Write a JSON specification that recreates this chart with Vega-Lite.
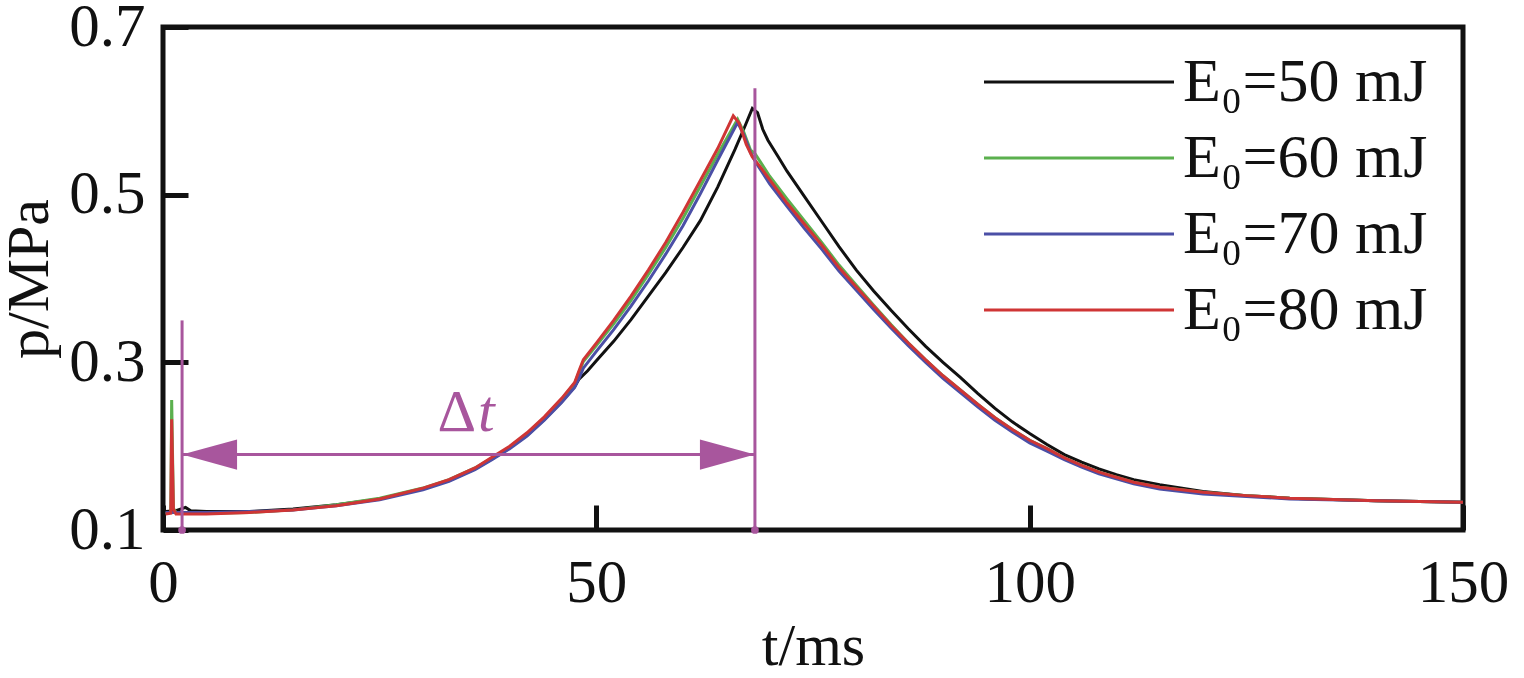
{
  "$schema": "https://vega.github.io/schema/vega-lite/v6.json",
  "description": "Pressure vs time for four ignition energies, with the delay interval marked.",
  "width": 1300,
  "height": 503,
  "autosize": "none",
  "padding": {"left": 163, "top": 27, "right": 61, "bottom": 148},
  "datasets": {
    "curves": [
      {"series": "E₀=50 mJ", "t": 0.3, "p": 0.122}, {"series": "E₀=50 mJ", "t": 1.5, "p": 0.123}, {"series": "E₀=50 mJ", "t": 2.6, "p": 0.127}, {"series": "E₀=50 mJ", "t": 3.2, "p": 0.123},
      {"series": "E₀=50 mJ", "t": 5, "p": 0.122}, {"series": "E₀=50 mJ", "t": 10, "p": 0.122}, {"series": "E₀=50 mJ", "t": 15, "p": 0.125}, {"series": "E₀=50 mJ", "t": 20, "p": 0.13},
      {"series": "E₀=50 mJ", "t": 25, "p": 0.137}, {"series": "E₀=50 mJ", "t": 30, "p": 0.149}, {"series": "E₀=50 mJ", "t": 33, "p": 0.159}, {"series": "E₀=50 mJ", "t": 36, "p": 0.173},
      {"series": "E₀=50 mJ", "t": 38, "p": 0.185}, {"series": "E₀=50 mJ", "t": 40, "p": 0.198}, {"series": "E₀=50 mJ", "t": 42, "p": 0.213}, {"series": "E₀=50 mJ", "t": 44, "p": 0.232},
      {"series": "E₀=50 mJ", "t": 46, "p": 0.253}, {"series": "E₀=50 mJ", "t": 47.5, "p": 0.271}, {"series": "E₀=50 mJ", "t": 48, "p": 0.28}, {"series": "E₀=50 mJ", "t": 49, "p": 0.29},
      {"series": "E₀=50 mJ", "t": 50, "p": 0.302}, {"series": "E₀=50 mJ", "t": 52, "p": 0.325}, {"series": "E₀=50 mJ", "t": 54, "p": 0.351}, {"series": "E₀=50 mJ", "t": 56, "p": 0.379},
      {"series": "E₀=50 mJ", "t": 58, "p": 0.407}, {"series": "E₀=50 mJ", "t": 60, "p": 0.437}, {"series": "E₀=50 mJ", "t": 62, "p": 0.469}, {"series": "E₀=50 mJ", "t": 64, "p": 0.509},
      {"series": "E₀=50 mJ", "t": 66, "p": 0.554}, {"series": "E₀=50 mJ", "t": 67, "p": 0.578}, {"series": "E₀=50 mJ", "t": 68, "p": 0.603}, {"series": "E₀=50 mJ", "t": 68.6, "p": 0.598},
      {"series": "E₀=50 mJ", "t": 69.2, "p": 0.578}, {"series": "E₀=50 mJ", "t": 69.8, "p": 0.565}, {"series": "E₀=50 mJ", "t": 71, "p": 0.545}, {"series": "E₀=50 mJ", "t": 72, "p": 0.528},
      {"series": "E₀=50 mJ", "t": 74, "p": 0.498}, {"series": "E₀=50 mJ", "t": 76, "p": 0.468}, {"series": "E₀=50 mJ", "t": 78, "p": 0.438}, {"series": "E₀=50 mJ", "t": 80, "p": 0.41},
      {"series": "E₀=50 mJ", "t": 82, "p": 0.385}, {"series": "E₀=50 mJ", "t": 84, "p": 0.362}, {"series": "E₀=50 mJ", "t": 86, "p": 0.34}, {"series": "E₀=50 mJ", "t": 88, "p": 0.319},
      {"series": "E₀=50 mJ", "t": 90, "p": 0.3}, {"series": "E₀=50 mJ", "t": 92, "p": 0.282}, {"series": "E₀=50 mJ", "t": 94, "p": 0.263}, {"series": "E₀=50 mJ", "t": 96, "p": 0.245},
      {"series": "E₀=50 mJ", "t": 98, "p": 0.229}, {"series": "E₀=50 mJ", "t": 100, "p": 0.215}, {"series": "E₀=50 mJ", "t": 102, "p": 0.202}, {"series": "E₀=50 mJ", "t": 104, "p": 0.19},
      {"series": "E₀=50 mJ", "t": 106, "p": 0.181}, {"series": "E₀=50 mJ", "t": 108, "p": 0.173}, {"series": "E₀=50 mJ", "t": 110, "p": 0.166}, {"series": "E₀=50 mJ", "t": 112, "p": 0.16},
      {"series": "E₀=50 mJ", "t": 115, "p": 0.154}, {"series": "E₀=50 mJ", "t": 120, "p": 0.146}, {"series": "E₀=50 mJ", "t": 125, "p": 0.141}, {"series": "E₀=50 mJ", "t": 130, "p": 0.138},
      {"series": "E₀=50 mJ", "t": 140, "p": 0.135}, {"series": "E₀=50 mJ", "t": 150, "p": 0.133},

      {"series": "E₀=60 mJ", "t": 0.3, "p": 0.12}, {"series": "E₀=60 mJ", "t": 0.9, "p": 0.121}, {"series": "E₀=60 mJ", "t": 1.0, "p": 0.255}, {"series": "E₀=60 mJ", "t": 1.2, "p": 0.126},
      {"series": "E₀=60 mJ", "t": 1.5, "p": 0.121}, {"series": "E₀=60 mJ", "t": 5, "p": 0.12}, {"series": "E₀=60 mJ", "t": 10, "p": 0.121}, {"series": "E₀=60 mJ", "t": 15, "p": 0.124},
      {"series": "E₀=60 mJ", "t": 20, "p": 0.13}, {"series": "E₀=60 mJ", "t": 25, "p": 0.138}, {"series": "E₀=60 mJ", "t": 30, "p": 0.15}, {"series": "E₀=60 mJ", "t": 33, "p": 0.16},
      {"series": "E₀=60 mJ", "t": 36, "p": 0.174}, {"series": "E₀=60 mJ", "t": 38, "p": 0.186}, {"series": "E₀=60 mJ", "t": 40, "p": 0.199}, {"series": "E₀=60 mJ", "t": 42, "p": 0.215},
      {"series": "E₀=60 mJ", "t": 44, "p": 0.234}, {"series": "E₀=60 mJ", "t": 46, "p": 0.256}, {"series": "E₀=60 mJ", "t": 47.5, "p": 0.275}, {"series": "E₀=60 mJ", "t": 48, "p": 0.288},
      {"series": "E₀=60 mJ", "t": 48.5, "p": 0.301}, {"series": "E₀=60 mJ", "t": 50, "p": 0.32}, {"series": "E₀=60 mJ", "t": 52, "p": 0.346}, {"series": "E₀=60 mJ", "t": 54, "p": 0.374},
      {"series": "E₀=60 mJ", "t": 56, "p": 0.405}, {"series": "E₀=60 mJ", "t": 58, "p": 0.437}, {"series": "E₀=60 mJ", "t": 60, "p": 0.472}, {"series": "E₀=60 mJ", "t": 62, "p": 0.51},
      {"series": "E₀=60 mJ", "t": 64, "p": 0.548}, {"series": "E₀=60 mJ", "t": 66.3, "p": 0.59}, {"series": "E₀=60 mJ", "t": 67, "p": 0.575}, {"series": "E₀=60 mJ", "t": 67.8, "p": 0.553},
      {"series": "E₀=60 mJ", "t": 68.3, "p": 0.549}, {"series": "E₀=60 mJ", "t": 69, "p": 0.538}, {"series": "E₀=60 mJ", "t": 70, "p": 0.522}, {"series": "E₀=60 mJ", "t": 72, "p": 0.495},
      {"series": "E₀=60 mJ", "t": 74, "p": 0.469}, {"series": "E₀=60 mJ", "t": 76, "p": 0.443}, {"series": "E₀=60 mJ", "t": 78, "p": 0.416}, {"series": "E₀=60 mJ", "t": 80, "p": 0.392},
      {"series": "E₀=60 mJ", "t": 82, "p": 0.368}, {"series": "E₀=60 mJ", "t": 84, "p": 0.345}, {"series": "E₀=60 mJ", "t": 86, "p": 0.323}, {"series": "E₀=60 mJ", "t": 88, "p": 0.303},
      {"series": "E₀=60 mJ", "t": 90, "p": 0.284}, {"series": "E₀=60 mJ", "t": 92, "p": 0.267}, {"series": "E₀=60 mJ", "t": 94, "p": 0.25}, {"series": "E₀=60 mJ", "t": 96, "p": 0.234},
      {"series": "E₀=60 mJ", "t": 98, "p": 0.22}, {"series": "E₀=60 mJ", "t": 100, "p": 0.207}, {"series": "E₀=60 mJ", "t": 102, "p": 0.197}, {"series": "E₀=60 mJ", "t": 104, "p": 0.186},
      {"series": "E₀=60 mJ", "t": 106, "p": 0.177}, {"series": "E₀=60 mJ", "t": 108, "p": 0.169}, {"series": "E₀=60 mJ", "t": 110, "p": 0.163}, {"series": "E₀=60 mJ", "t": 112, "p": 0.157},
      {"series": "E₀=60 mJ", "t": 115, "p": 0.151}, {"series": "E₀=60 mJ", "t": 120, "p": 0.145}, {"series": "E₀=60 mJ", "t": 125, "p": 0.141}, {"series": "E₀=60 mJ", "t": 130, "p": 0.138},
      {"series": "E₀=60 mJ", "t": 140, "p": 0.135}, {"series": "E₀=60 mJ", "t": 150, "p": 0.133},

      {"series": "E₀=70 mJ", "t": 0.3, "p": 0.121}, {"series": "E₀=70 mJ", "t": 5, "p": 0.121}, {"series": "E₀=70 mJ", "t": 10, "p": 0.122}, {"series": "E₀=70 mJ", "t": 15, "p": 0.124},
      {"series": "E₀=70 mJ", "t": 20, "p": 0.129}, {"series": "E₀=70 mJ", "t": 25, "p": 0.136}, {"series": "E₀=70 mJ", "t": 30, "p": 0.148}, {"series": "E₀=70 mJ", "t": 33, "p": 0.158},
      {"series": "E₀=70 mJ", "t": 36, "p": 0.172}, {"series": "E₀=70 mJ", "t": 38, "p": 0.184}, {"series": "E₀=70 mJ", "t": 40, "p": 0.197}, {"series": "E₀=70 mJ", "t": 42, "p": 0.212},
      {"series": "E₀=70 mJ", "t": 44, "p": 0.231}, {"series": "E₀=70 mJ", "t": 46, "p": 0.252}, {"series": "E₀=70 mJ", "t": 47.5, "p": 0.27}, {"series": "E₀=70 mJ", "t": 48, "p": 0.281},
      {"series": "E₀=70 mJ", "t": 48.5, "p": 0.293}, {"series": "E₀=70 mJ", "t": 50, "p": 0.313}, {"series": "E₀=70 mJ", "t": 52, "p": 0.339}, {"series": "E₀=70 mJ", "t": 54, "p": 0.367},
      {"series": "E₀=70 mJ", "t": 56, "p": 0.397}, {"series": "E₀=70 mJ", "t": 58, "p": 0.429}, {"series": "E₀=70 mJ", "t": 60, "p": 0.463}, {"series": "E₀=70 mJ", "t": 62, "p": 0.501},
      {"series": "E₀=70 mJ", "t": 64, "p": 0.541}, {"series": "E₀=70 mJ", "t": 66.3, "p": 0.586}, {"series": "E₀=70 mJ", "t": 67, "p": 0.572}, {"series": "E₀=70 mJ", "t": 67.8, "p": 0.55},
      {"series": "E₀=70 mJ", "t": 68.5, "p": 0.537}, {"series": "E₀=70 mJ", "t": 70, "p": 0.513}, {"series": "E₀=70 mJ", "t": 72, "p": 0.486}, {"series": "E₀=70 mJ", "t": 74, "p": 0.46},
      {"series": "E₀=70 mJ", "t": 76, "p": 0.435}, {"series": "E₀=70 mJ", "t": 78, "p": 0.409}, {"series": "E₀=70 mJ", "t": 80, "p": 0.386}, {"series": "E₀=70 mJ", "t": 82, "p": 0.363},
      {"series": "E₀=70 mJ", "t": 84, "p": 0.341}, {"series": "E₀=70 mJ", "t": 86, "p": 0.32}, {"series": "E₀=70 mJ", "t": 88, "p": 0.3}, {"series": "E₀=70 mJ", "t": 90, "p": 0.281},
      {"series": "E₀=70 mJ", "t": 92, "p": 0.264}, {"series": "E₀=70 mJ", "t": 94, "p": 0.247}, {"series": "E₀=70 mJ", "t": 96, "p": 0.231}, {"series": "E₀=70 mJ", "t": 98, "p": 0.217},
      {"series": "E₀=70 mJ", "t": 100, "p": 0.204}, {"series": "E₀=70 mJ", "t": 102, "p": 0.194}, {"series": "E₀=70 mJ", "t": 104, "p": 0.184}, {"series": "E₀=70 mJ", "t": 106, "p": 0.175},
      {"series": "E₀=70 mJ", "t": 108, "p": 0.167}, {"series": "E₀=70 mJ", "t": 110, "p": 0.161}, {"series": "E₀=70 mJ", "t": 112, "p": 0.155}, {"series": "E₀=70 mJ", "t": 115, "p": 0.149},
      {"series": "E₀=70 mJ", "t": 120, "p": 0.143}, {"series": "E₀=70 mJ", "t": 125, "p": 0.14}, {"series": "E₀=70 mJ", "t": 130, "p": 0.137}, {"series": "E₀=70 mJ", "t": 140, "p": 0.135},
      {"series": "E₀=70 mJ", "t": 150, "p": 0.133},

      {"series": "E₀=80 mJ", "t": 0.3, "p": 0.119}, {"series": "E₀=80 mJ", "t": 0.9, "p": 0.12}, {"series": "E₀=80 mJ", "t": 1.0, "p": 0.232}, {"series": "E₀=80 mJ", "t": 1.2, "p": 0.125},
      {"series": "E₀=80 mJ", "t": 1.5, "p": 0.119}, {"series": "E₀=80 mJ", "t": 5, "p": 0.119}, {"series": "E₀=80 mJ", "t": 10, "p": 0.121}, {"series": "E₀=80 mJ", "t": 15, "p": 0.124},
      {"series": "E₀=80 mJ", "t": 20, "p": 0.129}, {"series": "E₀=80 mJ", "t": 25, "p": 0.137}, {"series": "E₀=80 mJ", "t": 30, "p": 0.15}, {"series": "E₀=80 mJ", "t": 33, "p": 0.16},
      {"series": "E₀=80 mJ", "t": 36, "p": 0.174}, {"series": "E₀=80 mJ", "t": 38, "p": 0.187}, {"series": "E₀=80 mJ", "t": 40, "p": 0.2}, {"series": "E₀=80 mJ", "t": 42, "p": 0.216},
      {"series": "E₀=80 mJ", "t": 44, "p": 0.235}, {"series": "E₀=80 mJ", "t": 46, "p": 0.257}, {"series": "E₀=80 mJ", "t": 47.5, "p": 0.276}, {"series": "E₀=80 mJ", "t": 48, "p": 0.29},
      {"series": "E₀=80 mJ", "t": 48.5, "p": 0.303}, {"series": "E₀=80 mJ", "t": 50, "p": 0.323}, {"series": "E₀=80 mJ", "t": 52, "p": 0.35}, {"series": "E₀=80 mJ", "t": 54, "p": 0.379},
      {"series": "E₀=80 mJ", "t": 56, "p": 0.41}, {"series": "E₀=80 mJ", "t": 58, "p": 0.443}, {"series": "E₀=80 mJ", "t": 60, "p": 0.479}, {"series": "E₀=80 mJ", "t": 62, "p": 0.517},
      {"series": "E₀=80 mJ", "t": 64, "p": 0.555}, {"series": "E₀=80 mJ", "t": 65.8, "p": 0.594}, {"series": "E₀=80 mJ", "t": 66.5, "p": 0.585}, {"series": "E₀=80 mJ", "t": 67.3, "p": 0.56},
      {"series": "E₀=80 mJ", "t": 68, "p": 0.545}, {"series": "E₀=80 mJ", "t": 69, "p": 0.532}, {"series": "E₀=80 mJ", "t": 70, "p": 0.518}, {"series": "E₀=80 mJ", "t": 72, "p": 0.49},
      {"series": "E₀=80 mJ", "t": 74, "p": 0.465}, {"series": "E₀=80 mJ", "t": 76, "p": 0.44}, {"series": "E₀=80 mJ", "t": 78, "p": 0.413}, {"series": "E₀=80 mJ", "t": 80, "p": 0.39},
      {"series": "E₀=80 mJ", "t": 82, "p": 0.367}, {"series": "E₀=80 mJ", "t": 84, "p": 0.344}, {"series": "E₀=80 mJ", "t": 86, "p": 0.323}, {"series": "E₀=80 mJ", "t": 88, "p": 0.303},
      {"series": "E₀=80 mJ", "t": 90, "p": 0.284}, {"series": "E₀=80 mJ", "t": 92, "p": 0.267}, {"series": "E₀=80 mJ", "t": 94, "p": 0.25}, {"series": "E₀=80 mJ", "t": 96, "p": 0.234},
      {"series": "E₀=80 mJ", "t": 98, "p": 0.22}, {"series": "E₀=80 mJ", "t": 100, "p": 0.207}, {"series": "E₀=80 mJ", "t": 102, "p": 0.197}, {"series": "E₀=80 mJ", "t": 104, "p": 0.186},
      {"series": "E₀=80 mJ", "t": 106, "p": 0.177}, {"series": "E₀=80 mJ", "t": 108, "p": 0.169}, {"series": "E₀=80 mJ", "t": 110, "p": 0.163}, {"series": "E₀=80 mJ", "t": 112, "p": 0.157},
      {"series": "E₀=80 mJ", "t": 115, "p": 0.151}, {"series": "E₀=80 mJ", "t": 120, "p": 0.145}, {"series": "E₀=80 mJ", "t": 125, "p": 0.141}, {"series": "E₀=80 mJ", "t": 130, "p": 0.138},
      {"series": "E₀=80 mJ", "t": 140, "p": 0.135}, {"series": "E₀=80 mJ", "t": 150, "p": 0.133}
    ],
    "markers": [
      {"t": 2.2, "p": 0.1, "top": 0.35},
      {"t": 68.3, "p": 0.1, "top": 0.627}
    ],
    "span": [
      {"start": 2.2, "end": 68.3, "p": 0.19}
    ]
  },
  "layer": [
    {
      "data": {"name": "curves"},
      "mark": {"type": "line", "strokeWidth": 3, "clip": true},
      "encoding": {
        "x": {
          "field": "t", "type": "quantitative",
          "scale": {"domain": [0, 150], "nice": false},
          "axis": {"values": [0, 50, 100, 150], "title": "t/ms"}
        },
        "y": {
          "field": "p", "type": "quantitative",
          "scale": {"domain": [0.1, 0.7], "nice": false, "zero": false},
          "axis": {"values": [0.1, 0.3, 0.5, 0.7], "format": ".1f", "title": "p/MPa"}
        },
        "color": {
          "field": "series", "type": "nominal",
          "scale": {
            "domain": ["E₀=50 mJ", "E₀=60 mJ", "E₀=70 mJ", "E₀=80 mJ"],
            "range": ["#111111", "#5bb04e", "#4b4fa6", "#cf3535"]
          },
          "legend": {
            "title": null,
            "orient": "none",
            "legendX": 885,
            "legendY": 24,
            "symbolType": "M-5,0H5",
            "symbolSize": 1444,
            "symbolStrokeWidth": 3,
            "labelOffset": 73,
            "rowPadding": 14,
            "labelFont": "Liberation Serif",
            "labelFontSize": 62,
            "labelColor": "#111111",
            "labelLimit": 400
          }
        }
      }
    },
    {
      "data": {"name": "markers"},
      "mark": {"type": "rule", "color": "#a8569d", "strokeWidth": 3},
      "encoding": {
        "x": {"field": "t", "type": "quantitative"},
        "y": {"field": "p", "type": "quantitative"},
        "y2": {"field": "top"}
      }
    },
    {
      "data": {"name": "markers"},
      "mark": {"type": "point", "shape": "circle", "filled": true, "size": 60, "color": "#a8569d", "opacity": 1},
      "encoding": {
        "x": {"field": "t", "type": "quantitative"},
        "y": {"field": "p", "type": "quantitative"}
      }
    },
    {
      "data": {"name": "span"},
      "mark": {"type": "rule", "color": "#a8569d", "strokeWidth": 3},
      "encoding": {
        "x": {"field": "start", "type": "quantitative"},
        "x2": {"field": "end"},
        "y": {"field": "p", "type": "quantitative"}
      }
    },
    {
      "data": {"name": "span"},
      "mark": {"type": "point", "shape": "M0,0L2,-0.55L2,0.55Z", "filled": true, "size": 3025, "color": "#a8569d", "opacity": 1},
      "encoding": {
        "x": {"field": "start", "type": "quantitative"},
        "y": {"field": "p", "type": "quantitative"}
      }
    },
    {
      "data": {"name": "span"},
      "mark": {"type": "point", "shape": "M0,0L-2,-0.55L-2,0.55Z", "filled": true, "size": 3025, "color": "#a8569d", "opacity": 1},
      "encoding": {
        "x": {"field": "end", "type": "quantitative"},
        "y": {"field": "p", "type": "quantitative"}
      }
    },
    {
      "data": {"values": [{"t": 33.9, "p": 0.24, "label": "Δ"}]},
      "mark": {"type": "text", "font": "Liberation Serif", "fontSize": 60, "color": "#a8569d", "baseline": "middle"},
      "encoding": {
        "x": {"field": "t", "type": "quantitative"},
        "y": {"field": "p", "type": "quantitative"},
        "text": {"field": "label"}
      }
    },
    {
      "data": {"values": [{"t": 37.3, "p": 0.24, "label": "t"}]},
      "mark": {"type": "text", "font": "Liberation Serif", "fontSize": 60, "fontStyle": "italic", "color": "#a8569d", "baseline": "middle"},
      "encoding": {
        "x": {"field": "t", "type": "quantitative"},
        "y": {"field": "p", "type": "quantitative"},
        "text": {"field": "label"}
      }
    }
  ],
  "config": {
    "view": {"stroke": "#111111", "strokeWidth": 5},
    "axis": {
      "grid": false,
      "domain": false,
      "ticks": true,
      "tickSize": -25,
      "tickWidth": 5,
      "tickColor": "#111111",
      "labelFlush": false,
      "labelOverlap": false,
      "labelFont": "Liberation Serif",
      "labelFontSize": 61,
      "labelColor": "#111111",
      "titleFont": "Liberation Serif",
      "titleFontSize": 60,
      "titleFontWeight": "normal",
      "titleColor": "#111111"
    },
    "axisX": {"labelPadding": 48, "titlePadding": 4},
    "axisY": {"labelPadding": 43, "titlePadding": 8}
  }
}
